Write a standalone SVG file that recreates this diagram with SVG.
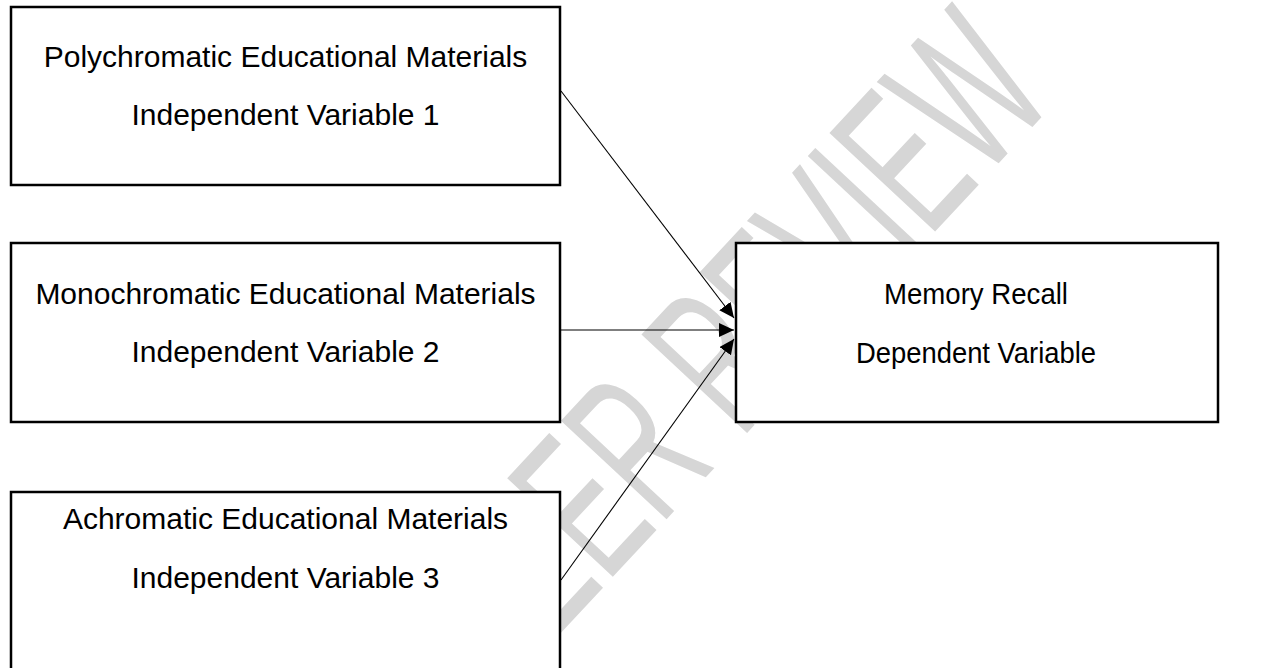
<svg xmlns="http://www.w3.org/2000/svg" width="1264" height="668" viewBox="0 0 1264 668">
  <style>
    .box { fill: #ffffff; stroke: #000000; stroke-width: 2.5; }
    .lbl { font-family: "Liberation Sans", Arial, sans-serif; font-size: 30px; fill: #000000; text-anchor: middle; }
    .lbl-r { font-family: "Liberation Sans", Arial, sans-serif; font-size: 29px; fill: #000000; text-anchor: middle; }
    .wm { font-family: "Liberation Sans", Arial, sans-serif; font-size: 210px; fill: #d6d6d6; }
    .conn { stroke: #000000; stroke-width: 1.1; fill: none; marker-end: url(#arrow); }
  </style>
  <defs>
    <marker id="arrow" markerUnits="userSpaceOnUse" markerWidth="16" markerHeight="15" refX="15" refY="7" orient="auto">
      <path d="M0,0 L15,7 L0,14 Z" fill="#000000"/>
    </marker>
  </defs>
  <rect x="0" y="0" width="1264" height="668" fill="#ffffff"/>

  <g id="watermark">
    <text class="wm" transform="translate(499,699) rotate(-47) scale(0.562,1)" x="0" y="0">PEER REVIEW</text>
  </g>

  <g id="node-polychromatic">
    <rect class="box" x="11" y="7" width="549" height="178"/>
    <text class="lbl" x="285.5" y="67">Polychromatic Educational Materials</text>
    <text class="lbl" x="285.5" y="125">Independent Variable 1</text>
  </g>

  <g id="node-monochromatic">
    <rect class="box" x="11" y="243" width="549" height="179"/>
    <text class="lbl" x="285.5" y="304">Monochromatic Educational Materials</text>
    <text class="lbl" x="285.5" y="362">Independent Variable 2</text>
  </g>

  <g id="node-achromatic">
    <rect class="box" x="11" y="492" width="549" height="200"/>
    <text class="lbl" x="285.5" y="529">Achromatic Educational Materials</text>
    <text class="lbl" x="285.5" y="588">Independent Variable 3</text>
  </g>

  <g id="node-memory-recall">
    <rect class="box" x="736" y="243" width="482" height="179"/>
    <text class="lbl-r" x="976" y="304" textLength="184" lengthAdjust="spacingAndGlyphs">Memory Recall</text>
    <text class="lbl-r" x="976" y="363" textLength="240" lengthAdjust="spacingAndGlyphs">Dependent Variable</text>
  </g>

  <g id="connectors">
    <line class="conn" x1="561" y1="91" x2="734" y2="318"/>
    <line class="conn" x1="561" y1="330" x2="734" y2="330"/>
    <line class="conn" x1="561" y1="580" x2="734" y2="339"/>
  </g>
</svg>
